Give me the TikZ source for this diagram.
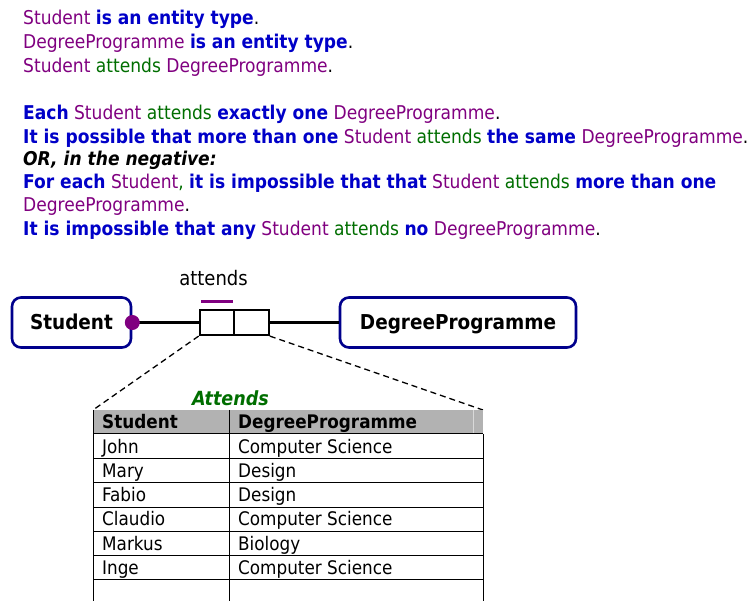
\documentclass[tikz,border=0pt]{standalone}
\usepackage{fontspec}
\setmainfont{DejaVu Sans Condensed}
\usetikzlibrary{calc}
\definecolor{entc}{RGB}{128,0,128}
\definecolor{keyc}{RGB}{0,0,200}
\definecolor{verbc}{RGB}{0,110,0}
\definecolor{boxc}{RGB}{0,0,140}
\definecolor{headc}{RGB}{178,178,178}
\newcommand{\ormEnt}[1]{\textcolor{entc}{#1}}
\newcommand{\ormKey}[1]{\textcolor{keyc}{\bfseries #1}}
\newcommand{\ormVerb}[1]{\textcolor{verbc}{#1}}
\tikzset{
  txt/.style={anchor=base west, inner sep=0pt, font=\fontsize{19}{22}\selectfont},
  entity/.style={draw=boxc, line width=2.6pt, rounded corners=9pt, minimum height=50pt,
    text height=18.8pt, text depth=4pt,
    font=\fontsize{20.5}{22}\selectfont\bfseries},
  conn/.style={line width=2.4pt},
  rolebox/.style={draw, line width=2.2pt, minimum width=34.5pt, minimum height=25pt, inner sep=0pt},
  cell/.style={anchor=base west, inner sep=0pt, font=\fontsize{18.7}{20}\selectfont},
  grid/.style={line width=1pt},
  dashline/.style={line width=1.3pt, dash pattern=on 6pt off 4pt},
}
\begin{document}
\begin{tikzpicture}[x=1pt,y=-1pt]
\useasboundingbox (0,0) rectangle (750,601);
% verbalisation
\node[txt] (l1) at (23,24.5) {\ormEnt{Student} \ormKey{is an entity type}.};
\node[txt] (l2) at (23,48.5) {\ormEnt{DegreeProgramme} \ormKey{is an entity type}.};
\node[txt] (l3) at (23,72.5) {\ormEnt{Student} \ormVerb{attends} \ormEnt{DegreeProgramme}.};
\node[txt] (l4) at (23,119.5) {\ormKey{Each} \ormEnt{Student} \ormVerb{attends} \ormKey{exactly one} \ormEnt{DegreeProgramme}.};
\node[txt] (l5) at (23,143.5) {\ormKey{It is possible that more than one} \ormEnt{Student} \ormVerb{attends} \ormKey{the same} \ormEnt{DegreeProgramme}.};
\node[txt] (l6) at (23,165.5) {\bfseries\itshape OR, in the negative:};
\node[txt] (l7) at (23,188.5) {\ormKey{For each} \ormEnt{Student}\ormVerb{,} \ormKey{it is impossible that that} \ormEnt{Student} \ormVerb{attends} \ormKey{more than one}};
\node[txt] (l8) at (23,211.5) {\ormEnt{DegreeProgramme}.};
\node[txt] (l9) at (23,235.5) {\ormKey{It is impossible that any} \ormEnt{Student} \ormVerb{attends} \ormKey{no} \ormEnt{DegreeProgramme}.};

% schema
\node[entity, minimum width=119pt] (stu) at (71.5,322.5) {Student};
\node[entity, minimum width=236pt] (dp) at (458,322.5) {DegreeProgramme};
\node[rolebox] (r1) at (217,322.5) {};
\node[rolebox] (r2) at (251.5,322.5) {};
\node[font=\fontsize{20}{22}\selectfont] (lbl) at (213.5,278) {attends};
\draw[conn] (stu.east) -- (r1.west);
\draw[conn] (r2.east) -- (dp.west);
\fill[entc] (stu.east) circle (7.5pt);
\coordinate (ucL) at (201,301.5);
\coordinate (ucR) at (233,301.5);
\draw[entc, line width=2.6pt] (ucL) -- (ucR);

% fact table
\coordinate (tl) at (93,410);
\coordinate (tr) at (483,410);
\draw[dashline] (r1.south west) -- (tl);
\draw[dashline] (r2.south east) -- (tr);
\node[font=\fontsize{19.5}{22}\selectfont\bfseries\itshape, text=verbc] (tname) at (230.5,398) {Attends};
\fill[headc] (93,410) rectangle (483,434);
\draw[white!85!black, line width=1pt] (473,410) -- (473,434);
\draw[grid] (93,410) -- (93,601);
\draw[grid] (229,410) -- (229,601);
\draw[grid] (483,434) -- (483,601);
\foreach \yy in {434,458.5,483,507,531,555.5,579.5} \draw[grid] (93,\yy) -- (483,\yy);
\node[cell, font=\fontsize{18.7}{20}\selectfont\bfseries] (h1) at (102,429) {Student};
\node[cell, font=\fontsize{18.7}{20}\selectfont\bfseries] (h2) at (238,429) {DegreeProgramme};
\node[cell] (a1) at (102,453.5) {John};
\node[cell] (b1) at (238,453.5) {Computer Science};
\node[cell] (a2) at (102,477.5) {Mary};
\node[cell] (b2) at (238,477.5) {Design};
\node[cell] (a3) at (102,501.5) {Fabio};
\node[cell] (b3) at (238,501.5) {Design};
\node[cell] (a4) at (102,525.5) {Claudio};
\node[cell] (b4) at (238,525.5) {Computer Science};
\node[cell] (a5) at (102,550) {Markus};
\node[cell] (b5) at (238,550) {Biology};
\node[cell] (a6) at (102,574) {Inge};
\node[cell] (b6) at (238,574) {Computer Science};
\end{tikzpicture}
\end{document}
